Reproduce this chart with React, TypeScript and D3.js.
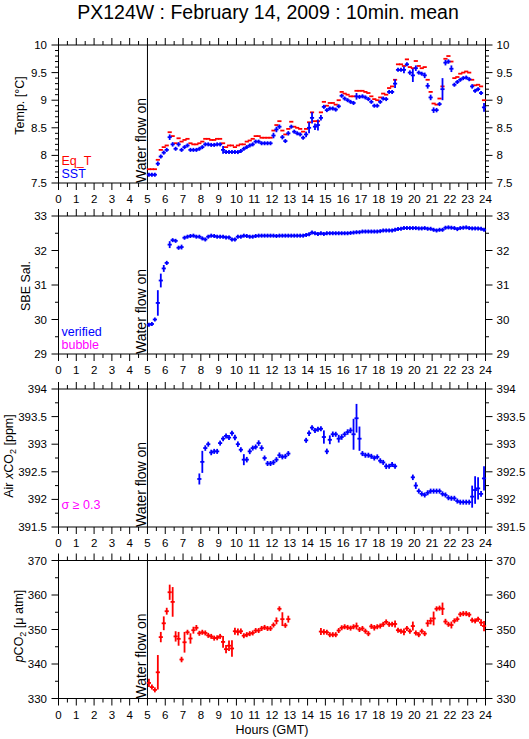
import React from 'react';
import * as d3 from 'd3';

const TITLE = 'PX124W : February 14, 2009 : 10min. mean';
const HOURS = d3.range(0, 25);
const START_HOUR = 5; // first 10-min slot starts at 05:00
const FLOW_ON_HOUR = 5;

// ---------- Panel 1 : temperatures (10-min slots from 05:00) ----------
const sstValues = [
  7.65, 7.65, 7.65, 7.85, 7.98, 8.05,
  8.10, 8.33, 8.20, 8.12, 8.20, 8.10,
  8.15, 8.18, 8.10, 8.10, 8.10, 8.12,
  8.15, 8.20, 8.20, 8.19, 8.19, 8.20,
  8.20, 8.10, 8.06, 8.06, 8.06, 8.06,
  8.06, 8.08, 8.12, 8.15, 8.18, 8.20,
  8.25, 8.25, 8.22, 8.22, 8.22, 8.22,
  8.36, 8.47, 8.52, 8.33, 8.26, 8.40,
  8.52, 8.43, 8.40, 8.38, 8.32, 8.38,
  8.50, 8.68, 8.52, 8.55, 8.68, 8.88,
  8.82, 8.85, 8.85, 8.83, 8.89, 9.08,
  9.03, 9.00, 8.97, 8.95, 9.07, 9.06,
  9.07, 9.05, 9.02, 8.97, 8.90, 8.90,
  8.97, 9.03, 9.02, 9.15, 9.15, 9.30,
  9.55, 9.55, 9.55, 9.65, 9.50, 9.45,
  9.58, 9.50, 9.48, 9.45, 9.26, 9.05,
  8.82, 8.82, 8.93, 9.20, 9.68, 9.70,
  9.57, 9.28, 9.33, 9.37, 9.40, 9.41,
  9.38, 9.25, 9.17, 9.20, 9.13, 8.87,
];
const sstSd = [
  .01, .01, .01, .04, .03, .03,
  .03, .05, .04, .03, .04, .02,
  .02, .02, .02, .02, .02, .02,
  .02, .02, .02, .02, .02, .02,
  .02, .07, .03, .03, .03, .02,
  .02, .02, .02, .03, .03, .02,
  .02, .02, .02, .02, .02, .02,
  .05, .05, .04, .04, .03, .04,
  .03, .03, .03, .03, .03, .05,
  .10, .10, .06, .10, .05, .03,
  .03, .03, .02, .02, .02, .03,
  .03, .03, .02, .02, .06, .03,
  .03, .02, .02, .03, .03, .02,
  .03, .03, .03, .02, .02, .08,
  .02, .02, .06, .03, .04, .12,
  .05, .03, .03, .05, .05, .05,
  .05, .04, .03, .20, .05, .04,
  .06, .03, .03, .02, .02, .02,
  .03, .04, .03, .03, .03, .08,
];
const eqtValues = [
  7.75, 7.75, 7.75, 7.92, 8.10, 8.15,
  8.18, 8.42, 8.35, 8.22, 8.31, 8.25,
  8.28, 8.30, 8.22, 8.20, 8.20, 8.22,
  8.25, 8.30, 8.30, 8.28, 8.28, 8.30,
  8.30, 8.22, 8.15, 8.18, 8.18, 8.15,
  8.18, 8.20, 8.20, 8.25, 8.27, 8.30,
  8.35, 8.35, 8.32, 8.32, 8.32, 8.32,
  8.45, 8.55, 8.62, 8.45, 8.38, 8.48,
  8.61, 8.52, 8.50, 8.48, 8.43, 8.48,
  8.60, 8.78, 8.62, 8.62, 8.78, 8.97,
  8.90, 8.95, 8.95, 8.92, 9.00, 9.15,
  9.12, 9.10, 9.07, 9.07, 9.17, 9.17,
  9.17, 9.15, 9.13, 9.07, 9.02, 9.00,
  9.05, 9.12, 9.10, 9.22, 9.25, 9.37,
  9.65, 9.65, 9.62, 9.74, 9.60, 9.58,
  9.71, 9.62, 9.58, 9.60, 9.37, 9.15,
  8.94, 8.92, 9.03, 9.25, 9.75, 9.80,
  9.70, 9.40, 9.42, 9.48, 9.50, 9.52,
  9.50, 9.37, 9.27, 9.28, 9.25, 9.00,
];

// ---------- Panel 2 : salinity ----------
const salValues = [
  29.85, 29.87, 30.00, 30.48, 31.13, 31.48,
  31.64, 32.17, 32.30, 32.28, 32.08, 32.10,
  32.37, 32.40, 32.42, 32.43, 32.40, 32.40,
  32.35, 32.32, 32.40, 32.43, 32.42, 32.40,
  32.40, 32.40, 32.38, 32.38, 32.32, 32.32,
  32.40, 32.40, 32.43, 32.42, 32.40, 32.40,
  32.42, 32.43, 32.43, 32.43, 32.43, 32.43,
  32.43, 32.42, 32.43, 32.43, 32.43, 32.43,
  32.43, 32.43, 32.43, 32.43, 32.43, 32.45,
  32.47, 32.52, 32.50, 32.48, 32.50, 32.48,
  32.50, 32.50, 32.50, 32.50, 32.50, 32.50,
  32.50, 32.50, 32.51, 32.52, 32.53, 32.53,
  32.55, 32.55, 32.55, 32.55, 32.55, 32.55,
  32.56, 32.58, 32.58, 32.58, 32.58, 32.60,
  32.62, 32.63, 32.65, 32.65, 32.65, 32.65,
  32.65, 32.64, 32.64, 32.65, 32.63, 32.63,
  32.60, 32.58, 32.60, 32.60, 32.66, 32.67,
  32.66, 32.65, 32.62, 32.65, 32.66, 32.67,
  32.65, 32.64, 32.64, 32.64, 32.63, 32.60,
];
const salSd = [
  .03, .03, .05, .37, .20, .10,
  .06, .10, .05, .05, .06, .07,
  .03, .03, .03, .03, .03, .03,
  .03, .03, .03, .03, .03, .03,
  .03, .03, .03, .03, .05, .03,
  .03, .03, .03, .03, .03, .03,
  .03, .03, .03, .03, .03, .03,
  .03, .03, .03, .03, .03, .03,
  .03, .03, .03, .03, .03, .03,
  .03, .03, .03, .03, .03, .03,
  .03, .03, .03, .03, .03, .03,
  .03, .03, .03, .03, .03, .03,
  .03, .03, .03, .03, .03, .03,
  .03, .03, .03, .03, .03, .03,
  .03, .03, .03, .03, .03, .03,
  .03, .03, .03, .03, .03, .03,
  .03, .03, .03, .03, .03, .03,
  .03, .03, .03, .03, .03, .03,
  .03, .03, .03, .03, .03, .03,
];

// ---------- Panel 3 : air xCO2 ----------
const N = null;
const airValues = [
  N, N, N, N, N, N,
  N, N, N, N, N, N,
  N, N, N, N, N, 392.37,
  392.68, 392.93, 393.00, 392.85, 392.87, 392.87,
  393.02, 393.10, 393.15, 393.12, 393.20, 393.12,
  393.00, 392.90, 392.72, 392.72, 392.87, 392.93,
  392.95, 393.02, 392.93, 392.75, 392.65, 392.65,
  392.67, 392.72, 392.80, 392.77, 392.78, 392.83,
  N, N, N, N, N, 393.07,
  393.20, 393.30, 393.25, 393.27, 393.28, 393.13,
  392.87, 393.08, 393.18, 393.18, 393.10, 393.13,
  393.18, 393.22, 393.25, 393.18, 393.47, 393.10,
  392.83, 392.80, 392.80, 392.78, 392.75, 392.77,
  392.70, 392.67, 392.60, 392.60, 392.63, 392.60,
  N, N, N, N, N, 392.40,
  392.25, 392.15, 392.10, 392.08, 392.12, 392.15,
  392.15, 392.15, 392.15, 392.10, 392.08, 392.03,
  392.02, 392.02, 391.97, 391.95, 391.95, 391.95,
  391.95, 392.05, 392.17, 392.20, 392.10, 392.38,
];
const airSd = [
  0, 0, 0, 0, 0, 0,
  0, 0, 0, 0, 0, 0,
  0, 0, 0, 0, 0, .10,
  .20, .05, .04, .05, .04, .04,
  .04, .03, .03, .03, .04, .05,
  .05, .04, .10, .05, .05, .04,
  .04, .05, .05, .04, .04, .04,
  .04, .04, .05, .04, .04, .04,
  0, 0, 0, 0, 0, .04,
  .05, .04, .04, .04, .03, .12,
  .05, .08, .05, .04, .07, .05,
  .04, .05, .05, .28, .26, .22,
  .03, .03, .03, .03, .04, .03,
  .04, .04, .05, .04, .04, .03,
  0, 0, 0, 0, 0, .05,
  .06, .03, .03, .03, .03, .03,
  .03, .04, .03, .03, .03, .03,
  .03, .03, .03, .04, .03, .03,
  .03, .20, .25, .20, .05, .22,
];

// ---------- Panel 4 : pCO2 ----------
const pco2Values = [
  334.5, 333.3, 332.5, 337.6, 347.8, 351.8,
  355.3, 360.8, 358.0, 348.0, 347.3, 341.3,
  346.3, 349.2, 347.4, 349.8, 350.5, 348.9,
  349.2, 349.0, 348.3, 348.0, 347.5, 347.6,
  348.0, 346.4, 344.3, 345.3, 344.5, 349.5,
  349.3, 349.5, 348.2, 348.5, 348.8, 349.0,
  349.7, 349.7, 350.3, 350.6, 350.3, 350.3,
  351.3, 352.5, 356.0, 353.0, 351.2, 353.0,
  N, N, N, N, N, N,
  N, N, N, N, 349.4, 349.3,
  349.2, 348.5, 348.5, 348.5, 349.7, 350.5,
  350.8, 350.6, 350.4, 350.8, 351.0, 350.0,
  350.3, 349.5, 348.8, 350.9, 350.5, 350.8,
  351.0, 351.5, 352.2, 351.5, 351.5, 351.6,
  349.8, 349.5, 349.3, 350.3, 349.5, 351.0,
  349.0, 348.5, 349.5, 348.8, 351.8, 352.5,
  353.2, 356.0, 356.2, 356.0, 352.3, 351.5,
  351.3, 352.5, 353.0, 354.4, 354.6, 354.6,
  354.3, 352.7, 352.5, 353.0, 352.0, 351.0,
];
const pco2Sd = [
  1.2, .5, .4, 5.0, 1.5, 2.0,
  1.0, 2.2, 4.3, 1.5, 2.0, .8,
  3.0, .3, 1.5, 1.0, .8, .3,
  .4, .3, .3, .3, .3, .3,
  .3, 1.7, 1.2, 1.5, 2.4, 1.0,
  1.0, .8, .5, .4, .4, .4,
  .4, .3, .3, .4, .3, .3,
  .6, 1.0, .6, 2.0, .5, 1.0,
  0, 0, 0, 0, 0, 0,
  0, 0, 0, 0, 1.0, .8,
  .5, .4, .3, .3, .7, .6,
  .4, .4, .4, .5, 1.0, .4,
  .5, .5, .5, .5, .8, .4,
  .4, .5, .6, .4, .4, 1.0,
  .4, .5, 1.0, .6, .5, 1.3,
  .5, .5, .4, .4, 1.0, 1.0,
  2.0, .6, .5, 1.8, .8, .5,
  1.0, .6, .4, .4, .4, .4,
  .4, .4, .4, .4, 1.0, 1.5,
];

// ---------- layout ----------
const W = 529;
const H = 739;
const X0 = 58.5;
const X1 = 485.5;
const PH = 138;
const FONT = 'Liberation Sans, Arial, Helvetica, sans-serif';
const RED = '#ff0000';
const BLUE = '#0000ff';
const MAGENTA = '#ff00ff';

const x = d3.scaleLinear().domain([0, 24]).range([X0, X1]);

type PanelDef = {
  top: number;
  domain: [number, number];
  major: number;
  minor: number;
  labelX: number;
  labelY: number;
};

const panelDefs: PanelDef[] = [
  { top: 45, domain: [7.5, 10], major: 0.5, minor: 0.1, labelX: 23.5, labelY: 105.5 },
  { top: 216, domain: [29, 33], major: 1, minor: 0.5, labelX: 29.5, labelY: 286 },
  { top: 389, domain: [391.5, 394], major: 0.5, minor: 0.25, labelX: 12.5, labelY: 456 },
  { top: 560.5, domain: [330, 370], major: 10, minor: 5, labelX: 22.5, labelY: 626 },
];

function stepTicks(lo: number, hi: number, step: number) {
  const n = Math.round((hi - lo) / step);
  return d3.range(n + 1).map((i) => +(lo + i * step).toFixed(4));
}

function fmt(v: number) {
  return String(+v.toFixed(3));
}

function slotTime(i: number) {
  return START_HOUR + (i + 0.5) / 6;
}

function ErrorBars({ values, sds, y, color, vertical, minHalf }: any) {
  const half = 1 / 12;
  return (
    <g stroke={color} strokeWidth={1.8} fill="none">
      {values.map((v: number | null, i: number) => {
        if (v == null) return null;
        const t = slotTime(i);
        const cx = x(t);
        const cy = y(v);
        const sd = sds ? sds[i] : 0;
        let hl = Math.abs(y(v + sd) - cy);
        if (vertical) hl = Math.max(hl, minHalf);
        return (
          <g key={i}>
            <line x1={x(t - half) - 0.6} x2={x(t + half) + 0.6} y1={cy} y2={cy} />
            {vertical && hl > 0 ? <line x1={cx} x2={cx} y1={cy - hl} y2={cy + hl} /> : null}
          </g>
        );
      })}
    </g>
  );
}

function Frame({ def, label, children }: any) {
  const bottom = def.top + PH;
  const y = d3.scaleLinear().domain(def.domain).range([bottom, def.top]);
  const majors = stepTicks(def.domain[0], def.domain[1], def.major);
  const minors = stepTicks(def.domain[0], def.domain[1], def.minor).filter(
    (v) => !majors.some((m) => Math.abs(m - v) < 1e-6)
  );
  const halfHours = d3.range(0, 24).map((h) => h + 0.5);
  return (
    <g>
      <g stroke="#000" strokeWidth={1} fill="none">
        <rect x={X0} y={def.top} width={X1 - X0} height={PH} />
        <line x1={x(FLOW_ON_HOUR)} x2={x(FLOW_ON_HOUR)} y1={def.top} y2={bottom} />
        {HOURS.map((h) => (
          <g key={'h' + h}>
            <line x1={x(h)} x2={x(h)} y1={def.top - 7} y2={def.top} />
            <line x1={x(h)} x2={x(h)} y1={bottom} y2={bottom + 7} />
          </g>
        ))}
        {halfHours.map((h) => (
          <g key={'m' + h}>
            <line x1={x(h)} x2={x(h)} y1={def.top - 4} y2={def.top} />
            <line x1={x(h)} x2={x(h)} y1={bottom} y2={bottom + 4} />
          </g>
        ))}
        {majors.map((v) => (
          <g key={'y' + v}>
            <line x1={X0 - 7} x2={X0} y1={y(v)} y2={y(v)} />
            <line x1={X1} x2={X1 + 7} y1={y(v)} y2={y(v)} />
          </g>
        ))}
        {minors.map((v) => (
          <g key={'ym' + v}>
            <line x1={X0 - 3.5} x2={X0} y1={y(v)} y2={y(v)} />
            <line x1={X1} x2={X1 + 3.5} y1={y(v)} y2={y(v)} />
          </g>
        ))}
      </g>
      <g fontFamily={FONT} fontSize={11.5} fill="#000">
        {majors.map((v) => (
          <g key={'yl' + v}>
            <text x={X0 - 11.5} y={y(v) + 4} textAnchor="end">{fmt(v)}</text>
            <text x={X1 + 11} y={y(v) + 4} textAnchor="start">{fmt(v)}</text>
          </g>
        ))}
        {HOURS.map((h) => (
          <text key={'xl' + h} x={x(h)} y={bottom + 20} textAnchor="middle">{h}</text>
        ))}
      </g>
      <text
        transform={`translate(${x(FLOW_ON_HOUR) - 1},${bottom}) rotate(-90)`}
        fontFamily={FONT}
        fontSize={14}
        fill="#000"
      >
        Water flow on
      </text>
      <text
        transform={`translate(${def.labelX},${def.labelY}) rotate(-90)`}
        fontFamily={FONT}
        fontSize={12.5}
        textAnchor="middle"
        fill="#000"
      >
        {label}
      </text>
      {children(y, bottom)}
    </g>
  );
}

export default function App() {
  return (
    <svg
      width={W}
      height={H}
      viewBox={`0 0 ${W} ${H}`}
      style={{ position: 'absolute', left: 0, top: 0, background: '#fff' }}
    >
      <rect x={0} y={0} width={W} height={H} fill="#fff" />
      <text x={268} y={18.5} textAnchor="middle" fontFamily={FONT} fontSize={19.5} fill="#000">
        {TITLE}
      </text>

      <Frame def={panelDefs[0]} label="Temp. [°C]">
        {(y: any, bottom: number) => (
          <g>
            <ErrorBars values={eqtValues} y={y} color={RED} vertical={false} />
            <ErrorBars values={sstValues} sds={sstSd} y={y} color={BLUE} vertical={true} minHalf={2} />
            <text x={61.5} y={bottom - 18.5} fontFamily={FONT} fontSize={12.5} fill={RED}>Eq_T</text>
            <text x={61.5} y={bottom - 5} fontFamily={FONT} fontSize={12.5} fill={BLUE}>SST</text>
          </g>
        )}
      </Frame>

      <Frame def={panelDefs[1]} label="SBE Sal.">
        {(y: any, bottom: number) => (
          <g>
            <ErrorBars values={salValues} sds={salSd} y={y} color={BLUE} vertical={true} minHalf={2} />
            <text x={61.5} y={bottom - 18.5} fontFamily={FONT} fontSize={12.5} fill={BLUE}>verified</text>
            <text x={61.5} y={bottom - 5} fontFamily={FONT} fontSize={12.5} fill={MAGENTA}>bubble</text>
          </g>
        )}
      </Frame>

      <Frame
        def={panelDefs[2]}
        label={
          <>
            Air <tspan fontStyle="italic">x</tspan>CO
            <tspan fontSize={9} dy={3}>2</tspan>
            <tspan dy={-3}> [ppm]</tspan>
          </>
        }
      >
        {(y: any, bottom: number) => (
          <g>
            <ErrorBars values={airValues} sds={airSd} y={y} color={BLUE} vertical={true} minHalf={2.5} />
            <text x={61.5} y={bottom - 18.5} fontFamily={FONT} fontSize={12.5} fill={MAGENTA}>σ ≥ 0.3</text>
          </g>
        )}
      </Frame>

      <Frame
        def={panelDefs[3]}
        label={
          <>
            <tspan fontStyle="italic">p</tspan>CO
            <tspan fontSize={9} dy={3}>2</tspan>
            <tspan dy={-3}> [μ atm]</tspan>
          </>
        }
      >
        {(y: any) => (
          <ErrorBars values={pco2Values} sds={pco2Sd} y={y} color={RED} vertical={true} minHalf={2.5} />
        )}
      </Frame>

      <text x={x(12)} y={734} textAnchor="middle" fontFamily={FONT} fontSize={12.5} fill="#000">
        Hours (GMT)
      </text>
    </svg>
  );
}
